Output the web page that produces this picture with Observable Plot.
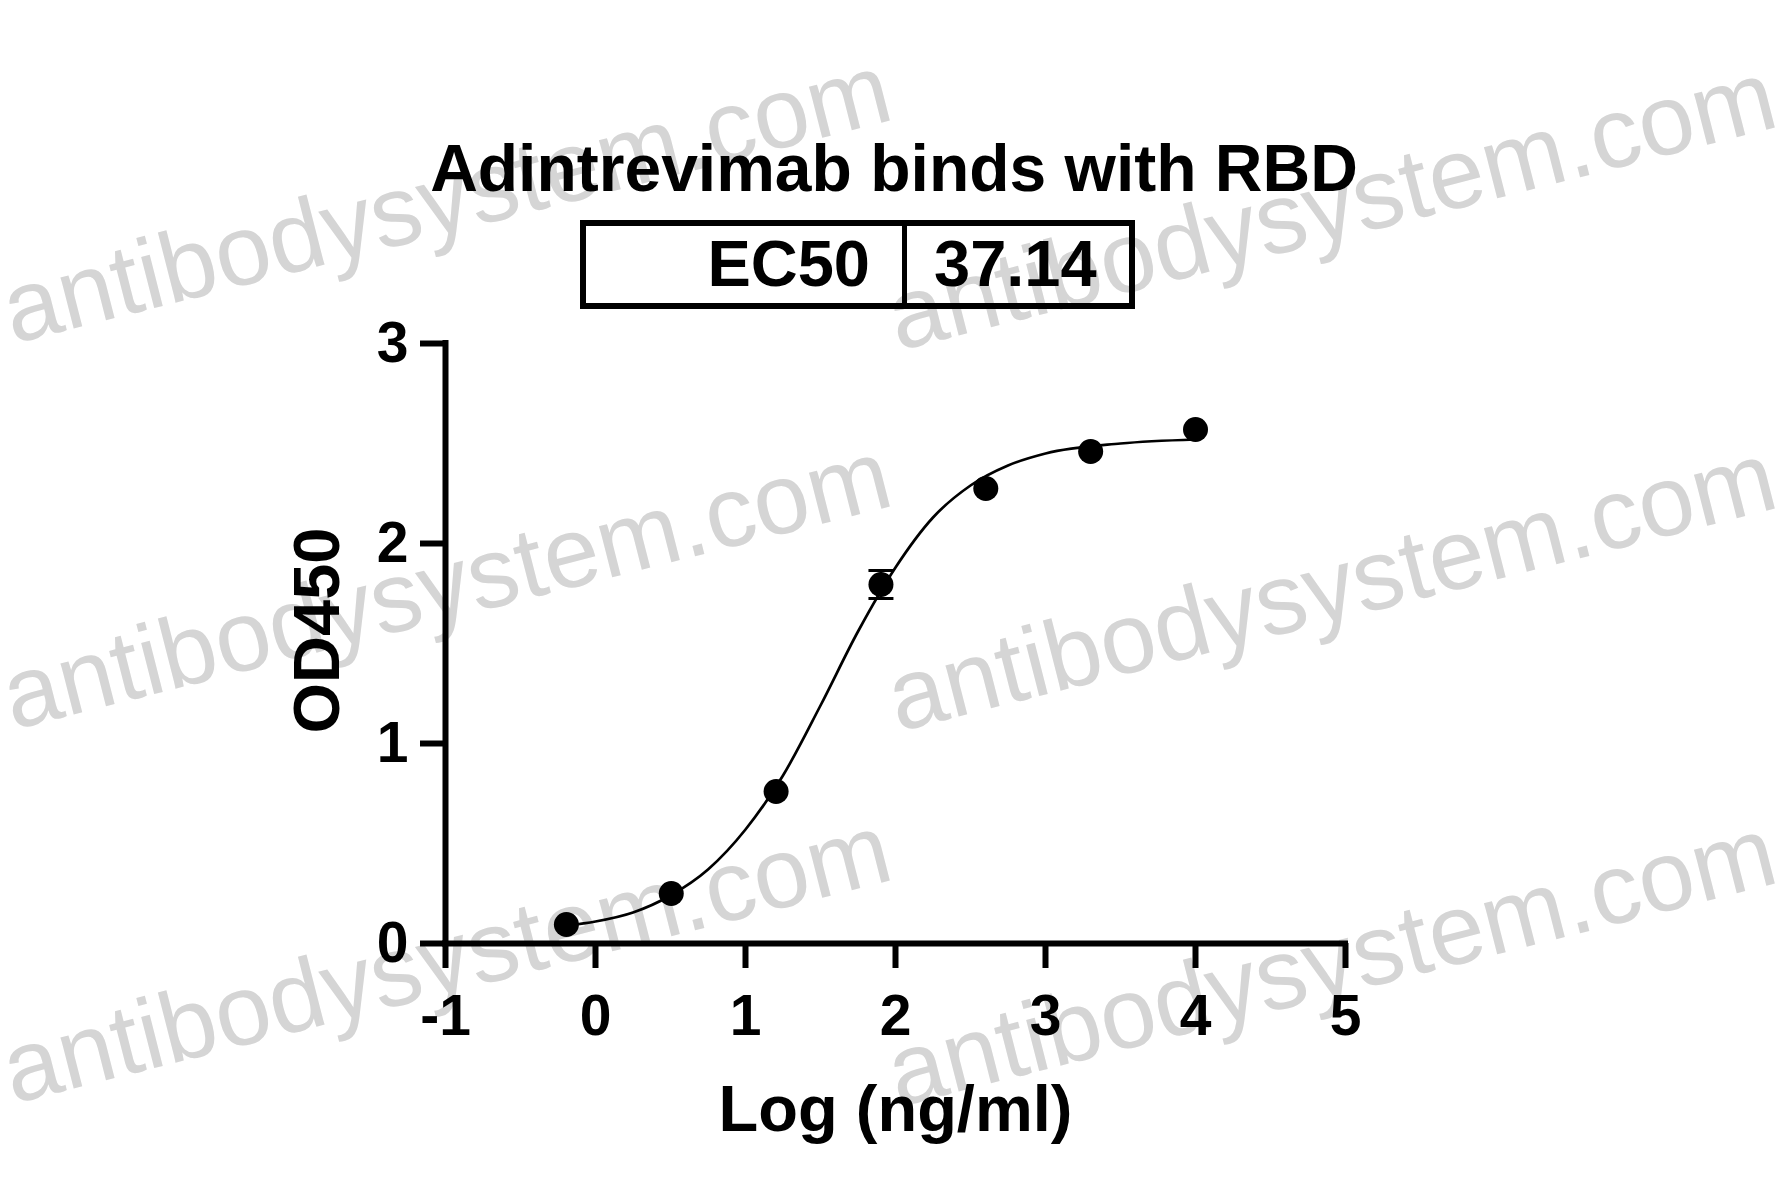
<!DOCTYPE html>
<html><head><meta charset="utf-8">
<script src="https://cdn.jsdelivr.net/npm/d3@7"></script>
<script src="https://cdn.jsdelivr.net/npm/@observablehq/plot@0.6"></script>
<style>
html,body{margin:0;padding:0;background:#fff;}
#page{position:relative;width:1781px;height:1197px;overflow:hidden;font-family:"Liberation Sans",Arial,sans-serif;color:#000;}
#wm{position:absolute;left:0;top:0;}
#title{position:absolute;left:0;width:1788px;top:135px;text-align:center;font-weight:bold;font-size:66px;line-height:66px;white-space:nowrap;}
#box{position:absolute;left:580px;top:220px;width:555px;height:89px;border:6px solid #000;box-sizing:border-box;}
#divider{position:absolute;left:902px;top:220px;width:5px;height:89px;background:#000;}
.cell{position:absolute;top:231px;font-weight:bold;font-size:65px;line-height:65px;white-space:nowrap;}
#k{left:580px;width:290px;text-align:right;}
#v{left:934px;}
#chart{position:absolute;left:0;top:320px;}
</style></head>
<body>
<div id="page">
  <svg id="wm" width="1781" height="1197"></svg>
  <div id="title"></div>
  <div id="box"></div><div id="divider"></div>
  <div class="cell" id="k"></div><div class="cell" id="v"></div>
  <div id="chart"></div>
</div>
<script>
// ---- data ----
const titleText = "Adintrevimab binds with RBD";
const ec50Label = "EC50";
const ec50Value = "37.14";
const xLabel = "Log (ng/ml)";
const yLabel = "OD450";
const xTicks = [-1, 0, 1, 2, 3, 4, 5];
const yTicks = [0, 1, 2, 3];
// log10 concentration (ng/ml)
const logConc = [-0.194, 0.505, 1.204, 1.903, 2.602, 3.301, 4.0];
const od = [0.095, 0.25, 0.76, 1.795, 2.275, 2.46, 2.57];
const sd = [0, 0, 0, 0.07, 0, 0, 0];
// fitted curve
const curveX = [-0.19, 0, 0.25, 0.5, 0.75, 1.0, 1.25, 1.5, 1.75, 2.0, 2.25, 2.5, 2.75, 3.0, 3.5, 4.0];
const curveY = [0.09, 0.11, 0.155, 0.24, 0.37, 0.57, 0.84, 1.19, 1.56, 1.88, 2.13, 2.29, 2.39, 2.45, 2.50, 2.52];
const watermark = "antibodysystem.com";

// ---- header ----
document.getElementById("title").textContent = titleText;
document.getElementById("k").textContent = ec50Label;
document.getElementById("v").textContent = ec50Value;

// ---- watermark ----
const wm = d3.select("#wm");
const wmPos = [[13, 344], [13, 730], [13, 1104], [898, 351], [898, 732], [898, 1107]];
wm.selectAll("text").data(wmPos).join("text")
  .attr("transform", d => `translate(${d[0]},${d[1]}) rotate(-14.3)`)
  .attr("font-family", "Liberation Sans, Arial, sans-serif")
  .attr("font-size", 100)
  .attr("fill", "#d5d5d5")
  .text(watermark);

// ---- chart ----
const points = logConc.map((x, i) => ({x, y: od[i], sd: sd[i]}));
const bars = points.filter(d => d.sd > 0).map(d => ({x: d.x, lo: d.y - d.sd, hi: d.y + d.sd}));
const curve = curveX.map((x, i) => ({x, y: curveY[i]}));
const capSymbol = {draw(ctx, size) { const r = Math.sqrt(size / Math.PI); ctx.moveTo(-r, 0); ctx.lineTo(r, 0); }};
const font = "Liberation Sans, Arial, sans-serif";

const plot = Plot.plot({
  width: 1781,
  height: 877,
  marginTop: 23,
  marginLeft: 445,
  marginRight: 436,
  marginBottom: 254,
  style: {background: "transparent", overflow: "visible", fontFamily: font},
  x: {domain: [-1, 5]},
  y: {domain: [0, 3]},
  marks: [
    Plot.ruleX(bars, {x: "x", y1: "lo", y2: "hi", stroke: "#000", strokeWidth: 2.5}),
    Plot.dot(bars, {x: "x", y: "lo", symbol: capSymbol, r: 12.5, stroke: "#000", strokeWidth: 3, fill: "none"}),
    Plot.dot(bars, {x: "x", y: "hi", symbol: capSymbol, r: 12.5, stroke: "#000", strokeWidth: 3, fill: "none"}),
    Plot.line(curve, {x: "x", y: "y", curve: "monotone-x", stroke: "#000", strokeWidth: 2.7}),
    Plot.dot(points, {x: "x", y: "y", r: 12.5, fill: "#000", stroke: "none"}),
    Plot.ruleY([0], {stroke: "#000", strokeWidth: 6, strokeLinecap: "square"}),
    Plot.ruleX([-1], {stroke: "#000", strokeWidth: 6, strokeLinecap: "square"}),
    Plot.axisX({ticks: xTicks, tickSize: 25, tickPadding: 26, strokeWidth: 6, tickFormat: d => String(d),
      fontSize: 57, fontWeight: "bold", fontFamily: font, fill: "#000", label: null}),
    Plot.axisY({ticks: yTicks, tickSize: 25, tickPadding: 12, strokeWidth: 6, tickFormat: d => String(d),
      fontSize: 57, fontWeight: "bold", fontFamily: font, fill: "#000", label: null}),
    Plot.text([xLabel], {frameAnchor: "bottom", textAnchor: "middle", lineAnchor: "middle", dy: 167, fontSize: 65, fontWeight: "bold", fontFamily: font, fill: "#000"}),
    Plot.text([yLabel], {frameAnchor: "left", textAnchor: "middle", lineAnchor: "middle", rotate: -90, dx: -127, dy: -13, fontSize: 65, fontWeight: "bold", fontFamily: font, fill: "#000"})
  ]
});
document.getElementById("chart").appendChild(plot);
</script>
</body></html>
